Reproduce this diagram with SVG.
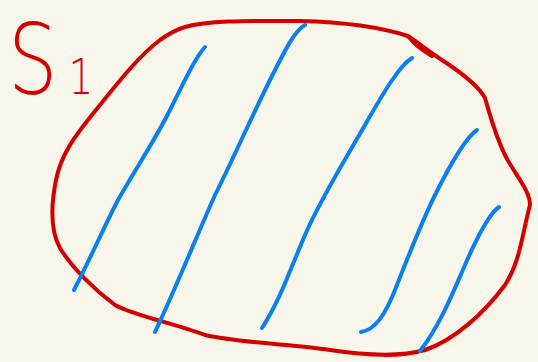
<svg xmlns="http://www.w3.org/2000/svg" width="538" height="362" viewBox="0 0 538 362">
<style>
.red{fill:none;stroke:#d40000;stroke-width:4;stroke-linecap:round;stroke-linejoin:round}
.blue{fill:none;stroke:#0a7ff2;stroke-width:4;stroke-linecap:round;stroke-linejoin:round}
.lbl{font-family:"DejaVu Sans",sans-serif;fill:#d40000;font-weight:200}
</style>
<rect width="538" height="362" fill="#f8f6ea"/>
<text class="lbl" transform="translate(8,94) scale(0.78,0.98)" font-size="100">S<tspan font-size="50" dx="14">1</tspan></text>
<path class="red" d="M160,40 C140,55 120,80 100,105 C80,130 62,150 56,180 C51,205 50,230 60,248 C72,268 95,290 115,305 C135,316 170,322 205,335 C240,343 290,344 330,350 C370,356 400,357 425,350 C455,340 485,312 505,285 C520,262 522,235 530,205 C530,190 515,175 505,155 C495,135 490,115 485,98 C478,85 460,72 445,62 C432,54 420,44 408,36 C380,27 340,22 300,21 C255,21 210,20 185,27 C175,30 167,35 160,40 Z"/>
<path class="red" d="M408,36 C415,45 425,52 432,56" stroke-width="7"/>
<g>
<path class="blue" d="M205,47 C195,58 185,80 170,110 C155,140 135,170 118,200 C105,225 92,255 74,290"/>
<path class="blue" d="M305,25 C295,30 285,50 270,80 C250,120 235,155 215,195 C195,240 175,290 155,332"/>
<path class="blue" d="M412,58 C400,65 385,90 365,125 C345,160 320,200 305,235 C290,270 280,300 262,328"/>
<path class="blue" d="M477,130 C465,138 450,165 435,195 C418,230 405,265 395,290 C385,315 375,330 361,332"/>
<path class="blue" d="M499,207 C490,213 478,235 465,265 C452,295 440,325 420,351"/>
</g>
</svg>
